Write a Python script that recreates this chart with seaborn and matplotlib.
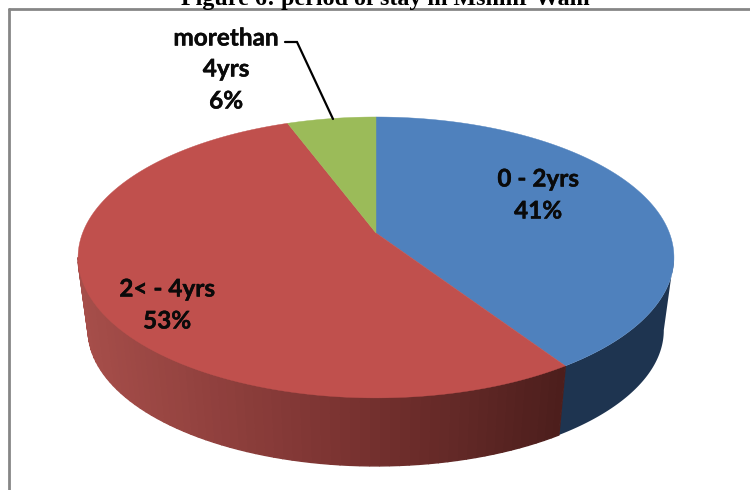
import numpy as np
import seaborn as sns
import matplotlib
matplotlib.use("Agg")
import matplotlib.pyplot as plt
import matplotlib.patheffects as pe
from matplotlib.patches import Polygon

title = "Figure 6: period of stay in Mshmr Wam"
categories = ["0 - 2yrs", "2< - 4yrs", "morethan\n4yrs"]
percents = [41, 53, 6]
# slice sizes as measured on the picture, the labels are rounded
shares = [40.7, 53.6, 5.7]
top_colors = ["#4F81BD", "#C0504D", "#9BBB59"]
# shading of the side wall, left to right
wall_colors = ["#1E3450", ["#A64E4A", "#7E3533", "#4C1E1C"]]

sns.set_theme(style="white")
fig, ax = plt.subplots(figsize=(7.5, 4.9), dpi=100)
ax.set_position([0, 0, 1, 1])
ax.set_xlim(0, 750)
ax.set_ylim(490, 0)
ax.axis("off")

# perspective disc: pie angle -> picture position
CX = 376
K = 0.174


def rim(theta, a, b, y0):
    u = np.sin(theta)
    v = -np.cos(theta)
    w = 1 - K * v
    return CX + a * u / w, y0 + b * v / w


def top_rim(theta):
    return rim(theta, 293.4, 136.2, 233)


def low_rim(theta):
    return rim(theta, 283.4, 131.6, 306.6)


edges = np.cumsum([0] + shares) / sum(shares) * 2 * np.pi

# blue wall is flat colour, one polygon from the silhouette point on
th = np.linspace(np.radians(100), edges[1], 150)
xt, yt = top_rim(th)
xl, yl = low_rim(th[::-1])
ax.add_patch(Polygon(list(zip(xt, yt)) + list(zip(xl, yl)), closed=True, facecolor=wall_colors[0],
                     edgecolor="none", zorder=2))

# red wall, strips so the shading runs along it
pal = sns.blend_palette(wall_colors[1], 200)
th = np.linspace(edges[1], np.radians(260), 70)
xmin = low_rim(np.radians(260))[0]
xmax = low_rim(edges[1])[0]
for t0, t1 in zip(th[:-1], th[1:]):
    x0, y0 = top_rim(t0)
    x1, y1 = top_rim(t1)
    x2, y2 = low_rim(t1)
    x3, y3 = low_rim(t0)
    f = np.clip(((x2 + x3) / 2 - xmin) / (xmax - xmin), 0, 1)
    c = pal[int(f * 199)]
    ax.add_patch(Polygon([(x0, y0), (x1, y1), (x2, y2), (x3, y3)], closed=True,
                         facecolor=c, edgecolor=c, lw=1.0, zorder=2))

# top face
for i in range(len(shares)):
    th = np.linspace(edges[i], edges[i + 1], 200)
    xs, ys = top_rim(th)
    pts = [(CX, 233)] + list(zip(xs, ys))
    ax.add_patch(Polygon(pts, closed=True, facecolor=top_colors[i], edgecolor=top_colors[i],
                         lw=0.3, zorder=3))

# labels
label_font = dict(family="Lato", fontweight="bold", fontsize=17.5, color="#0A0A0A",
                  ha="center", va="center", zorder=5,
                  path_effects=[pe.withStroke(linewidth=0.3, foreground="#0A0A0A")])
ax.text(538, 179, categories[0], **label_font)
ax.text(538, 211, f"{percents[0]}%", **label_font)
ax.text(167, 289, categories[1], **label_font)
ax.text(167, 321, f"{percents[1]}%", **label_font)
more, yrs = categories[2].split("\n")
ax.text(226, 38, more, **label_font)
ax.text(226, 69, yrs, **label_font)
ax.text(226, 101, f"{percents[2]}%", **label_font)

# leader line to the small slice
ax.plot([285, 297, 333], [42, 42, 119], color="black", lw=1.6, zorder=4,
        solid_joinstyle="miter")

# frame, it runs off the page at right and bottom
ax.plot([8.5, 8.5], [490, 9.5], color="#868686", lw=2, zorder=1)
ax.plot([8.5, 750], [9.5, 9.5], color="#868686", lw=2, zorder=1)

ax.text(385.5, 4.5, title, family="Liberation Serif", fontweight="bold", fontsize=17.3,
        color="black", ha="center", va="baseline", zorder=6)

fig.savefig("out.png", dpi=100, facecolor="white")
